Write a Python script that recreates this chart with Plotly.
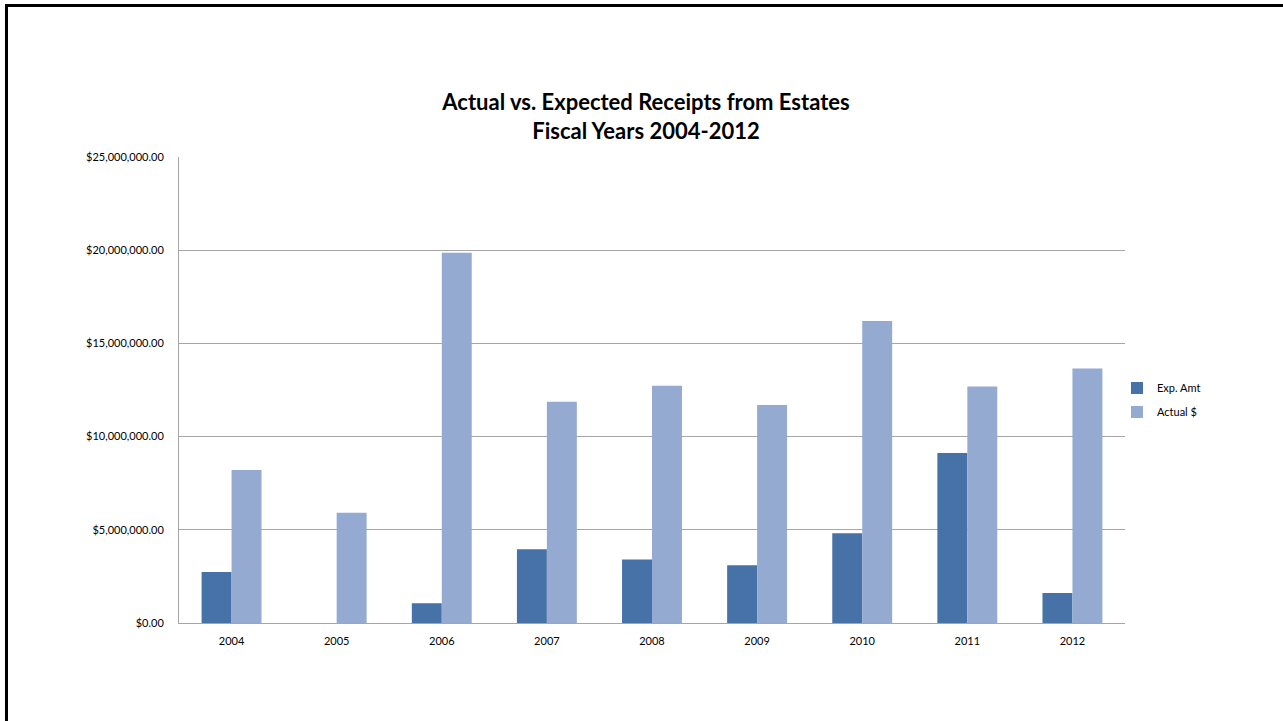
import plotly.graph_objects as go

years = ["2004", "2005", "2006", "2007", "2008", "2009", "2010", "2011", "2012"]
exp_amt = [2740000, 0, 1060000, 3960000, 3410000, 3100000, 4810000, 9120000, 1610000]
actual = [8210000, 5910000, 19860000, 11870000, 12730000, 11690000, 16200000, 12690000, 13660000]
y_ticks = [0, 5000000, 10000000, 15000000, 20000000, 25000000]
y_tick_labels = ["$0.00", "$5,000,000.00", "$10,000,000.00", "$15,000,000.00",
                 "$20,000,000.00", "$25,000,000.00"]

W, H = 1283, 721
L, R, T, B = 179, 1125, 157, 623
pw, ph = R - L, B - T

fig = go.Figure()
fig.add_trace(go.Bar(name="Exp. Amt", x=years, y=exp_amt, legendgroup="a",
                     marker=dict(color="#4672A8", line=dict(width=0))))
fig.add_trace(go.Bar(name="Actual $", x=years, y=actual, legendgroup="b",
                     marker=dict(color="#95AAD1", line=dict(width=0))))

font_fam = "Lato, 'Open Sans', sans-serif"

def px_x(p):
    return (p - L) / pw

def px_y(p):
    return (B - p) / ph

fig.update_layout(
    width=W, height=H,
    margin=dict(l=L, r=W - R, t=T, b=H - B),
    paper_bgcolor="white", plot_bgcolor="white",
    barmode="group", bargap=0.43, bargroupgap=0,
    font=dict(family=font_fam, color="#000000", size=11),
    title=dict(text="<b>Actual vs. Expected Receipts from Estates<br>Fiscal Years 2004-2012</b>",
               x=646 / W, xref="container", xanchor="center",
               y=1 - 110 / H, yref="container", yanchor="middle",
               font=dict(family=font_fam, size=22, color="#000000")),
    xaxis=dict(showgrid=False, showline=True, linecolor="#a6a6a6", linewidth=1,
               ticks="", tickfont=dict(size=11), ticklabelstandoff=8),
    yaxis=dict(range=[0, 25000000], tickvals=y_ticks, ticktext=y_tick_labels,
               showgrid=True, gridcolor="#a6a6a6", gridwidth=1,
               showline=True, linecolor="#a6a6a6", linewidth=1,
               ticks="", tickfont=dict(size=11), zeroline=False, ticklabelstandoff=12),
    legend=dict(x=px_x(1117), y=px_y(400), xanchor="left", yanchor="middle",
                font=dict(size=11), itemwidth=30, tracegroupgap=5,
                bgcolor="rgba(0,0,0,0)"),
    showlegend=True,
)

# slide frame (left and top black edges)
fig.add_shape(type="line", xref="paper", yref="paper",
              x0=px_x(6.5), x1=px_x(6.5), y0=px_y(5), y1=px_y(H + 5),
              line=dict(color="black", width=3))
fig.add_shape(type="line", xref="paper", yref="paper",
              x0=px_x(5), x1=px_x(W + 5), y0=px_y(5.5), y1=px_y(5.5),
              line=dict(color="black", width=3))

fig.write_html("out.html")
